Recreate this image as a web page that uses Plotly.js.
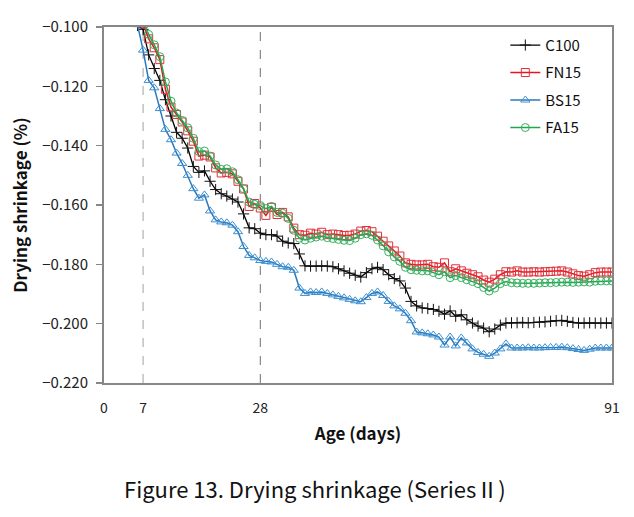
<!DOCTYPE html>
<html>
<head>
<meta charset="utf-8">
<script src="https://cdn.plot.ly/plotly-3.0.1.min.js"></script>
<style>html,body{margin:0;padding:0;background:#fff;}#chart{width:634px;height:517px;}</style>
</head>
<body>
<div id="chart"></div>
<script>
var days = [6,7,8,9,10,11,12,13,14,15,16,17,18,19,20,21,22,23,24,25,26,27,28,29,30,31,32,33,34,35,36,37,38,39,40,41,42,43,44,45,46,47,48,49,50,51,52,53,54,55,56,57,58,59,60,61,62,63,64,65,66,67,68,69,70,71,72,73,74,75,76,77,78,79,80,81,82,83,84,85,86,87,88,89,90,91];

var c100 = [-0.0995,-0.1008,-0.1094,-0.1140,-0.1180,-0.1245,-0.1300,-0.1355,-0.1375,-0.1408,-0.1470,-0.1490,-0.1485,-0.1520,-0.1548,-0.1562,-0.1570,-0.1580,-0.1590,-0.1630,-0.1677,-0.1680,-0.1695,-0.1700,-0.1700,-0.1705,-0.1722,-0.1728,-0.1730,-0.1765,-0.1805,-0.1806,-0.1806,-0.1805,-0.1806,-0.1808,-0.1815,-0.1822,-0.1830,-0.1837,-0.1843,-0.1828,-0.1815,-0.1810,-0.1818,-0.1835,-0.1848,-0.1856,-0.1880,-0.1925,-0.1940,-0.1947,-0.1949,-0.1952,-0.1958,-0.1968,-0.1957,-0.1975,-0.1970,-0.1987,-0.1998,-0.2008,-0.2015,-0.2027,-0.2018,-0.2005,-0.1998,-0.1997,-0.1997,-0.1996,-0.1997,-0.1996,-0.1995,-0.1994,-0.1992,-0.1990,-0.1989,-0.1992,-0.1996,-0.1998,-0.1998,-0.1997,-0.1998,-0.1998,-0.1998,-0.1998];

var fn15 = [-0.0950,-0.0990,-0.1040,-0.1070,-0.1110,-0.1210,-0.1270,-0.1295,-0.1320,-0.1350,-0.1385,-0.1435,-0.1432,-0.1438,-0.1475,-0.1492,-0.1490,-0.1495,-0.1520,-0.1546,-0.1605,-0.1595,-0.1610,-0.1635,-0.1608,-0.1632,-0.1625,-0.1640,-0.1678,-0.1700,-0.1702,-0.1695,-0.1698,-0.1692,-0.1700,-0.1698,-0.1700,-0.1703,-0.1702,-0.1698,-0.1688,-0.1686,-0.1690,-0.1705,-0.1722,-0.1738,-0.1755,-0.1772,-0.1795,-0.1800,-0.1802,-0.1802,-0.1800,-0.1808,-0.1810,-0.1795,-0.1825,-0.1815,-0.1822,-0.1830,-0.1835,-0.1842,-0.1853,-0.1860,-0.1850,-0.1835,-0.1825,-0.1826,-0.1822,-0.1826,-0.1826,-0.1825,-0.1826,-0.1825,-0.1824,-0.1823,-0.1822,-0.1826,-0.1832,-0.1838,-0.1840,-0.1835,-0.1828,-0.1826,-0.1826,-0.1826];

var bs15 = [-0.0992,-0.1078,-0.1180,-0.1205,-0.1275,-0.1345,-0.1380,-0.1425,-0.1460,-0.1500,-0.1545,-0.1577,-0.1566,-0.1620,-0.1650,-0.1657,-0.1660,-0.1668,-0.1690,-0.1740,-0.1770,-0.1778,-0.1787,-0.1790,-0.1792,-0.1800,-0.1808,-0.1810,-0.1820,-0.1880,-0.1898,-0.1893,-0.1895,-0.1893,-0.1898,-0.1903,-0.1908,-0.1913,-0.1918,-0.1923,-0.1926,-0.1912,-0.1898,-0.1893,-0.1905,-0.1925,-0.1940,-0.1950,-0.1965,-0.1990,-0.2028,-0.2031,-0.2034,-0.2038,-0.2045,-0.2072,-0.2045,-0.2075,-0.2048,-0.2065,-0.2085,-0.2097,-0.2103,-0.2110,-0.2099,-0.2085,-0.2068,-0.2082,-0.2082,-0.2082,-0.2081,-0.2082,-0.2082,-0.2081,-0.2080,-0.2080,-0.2079,-0.2081,-0.2084,-0.2087,-0.2090,-0.2086,-0.2082,-0.2082,-0.2082,-0.2082];

var fa15 = [-0.0940,-0.0985,-0.1025,-0.1060,-0.1100,-0.1185,-0.1250,-0.1290,-0.1315,-0.1340,-0.1375,-0.1420,-0.1418,-0.1435,-0.1465,-0.1480,-0.1478,-0.1488,-0.1515,-0.1545,-0.1590,-0.1598,-0.1602,-0.1612,-0.1605,-0.1625,-0.1628,-0.1645,-0.1685,-0.1712,-0.1718,-0.1712,-0.1708,-0.1705,-0.1710,-0.1713,-0.1716,-0.1719,-0.1720,-0.1712,-0.1700,-0.1697,-0.1702,-0.1718,-0.1738,-0.1758,-0.1775,-0.1790,-0.1810,-0.1818,-0.1820,-0.1822,-0.1822,-0.1828,-0.1835,-0.1825,-0.1845,-0.1838,-0.1845,-0.1852,-0.1858,-0.1865,-0.1878,-0.1890,-0.1880,-0.1865,-0.1858,-0.1862,-0.1863,-0.1864,-0.1864,-0.1864,-0.1863,-0.1862,-0.1862,-0.1861,-0.1860,-0.1860,-0.1861,-0.1860,-0.1859,-0.1860,-0.1857,-0.1856,-0.1856,-0.1856];

var seriesNames = ["C100","FN15","BS15","FA15"];
var xTickVals = [0,7,28,91];
var xTickText = ["0","7","28","91"];
var yTickVals = [-0.22,-0.20,-0.18,-0.16,-0.14,-0.12,-0.10];
var markerLines = [7,28];
var caption = "Figure 13. Drying shrinkage (Series\u2161)";

var font = "Noto Sans CJK KR, Malgun Gothic, Noto Sans, sans-serif";

function tr(name, y, color, symbol, mcolor, msize, lw) {
  return {
    x: days, y: y, name: name, type: "scatter", mode: "lines+markers",
    legendgroup: name,
    line: {color: color, width: lw},
    marker: {symbol: symbol, size: msize, color: mcolor,
             line: {color: mcolor, width: 1}},
    cliponaxis: true
  };
}

var data = [
  tr(seriesNames[0], c100, "#000000", "cross-thin", "#111111", 8, 1.3),
  tr(seriesNames[1], fn15, "#e8141c", "square-open", "#e0303a", 8, 1.5),
  tr(seriesNames[2], bs15, "#2a78bd", "triangle-up-open", "#3a8fd0", 8, 1.5),
  tr(seriesNames[3], fa15, "#22a650", "circle-open", "#35b060", 8, 1.5)
];

var shapes = markerLines.map(function(d, i){
  return {type: "line", xref: "x", yref: "paper", x0: d, x1: d, y0: 0, y1: 1,
          line: {color: i === 0 ? "#a0a0a0" : "#707070", width: 1, dash: "dash"}, layer: "below"};
});

var layout = {
  width: 634, height: 517,
  margin: {l: 104, r: 22, t: 27, b: 134},
  paper_bgcolor: "#ffffff", plot_bgcolor: "#ffffff",
  font: {family: font, color: "#222", size: 13},
  showlegend: true,
  legend: {x: 0.79, y: 0.995, xanchor: "left", yanchor: "top",
           bgcolor: "rgba(255,255,255,0)", font: {family: font, size: 15, color: "#111"},
           tracegroupgap: 5, itemwidth: 30},
  xaxis: {
    range: [0, 91], tickvals: xTickVals, ticktext: xTickText,
    showgrid: false, zeroline: false,
    showline: true, mirror: true, linecolor: "#878787", linewidth: 2,
    ticks: "outside", ticklen: 11, tickcolor: "rgba(0,0,0,0)",
    tickfont: {family: font, size: 14, color: "#222"},
    title: {text: "Age (days)", font: {family: font, size: 17, color: "#111", weight: "bold"}, standoff: 12}
  },
  yaxis: {
    range: [-0.22, -0.10], tickvals: yTickVals, tickformat: ".3f",
    showgrid: false, zeroline: false,
    showline: true, mirror: true, linecolor: "#878787", linewidth: 2,
    ticks: "outside", ticklen: 6, tickcolor: "#878787", tickwidth: 1.5,
    ticklabelstandoff: 5,
    tickfont: {family: font, size: 15, color: "#222"},
    title: {text: "Drying shrinkage (%)", font: {family: font, size: 17, color: "#111", weight: "bold"}, standoff: 10}
  },
  shapes: shapes,
  annotations: [{
    text: caption, xref: "paper", yref: "paper", x: 0.415, y: -0.295,
    xanchor: "center", yanchor: "middle", showarrow: false,
    font: {family: font, size: 22, color: "#111"}
  }]
};

Plotly.newPlot("chart", data, layout, {displayModeBar: false, staticPlot: true});
</script>
</body>
</html>
